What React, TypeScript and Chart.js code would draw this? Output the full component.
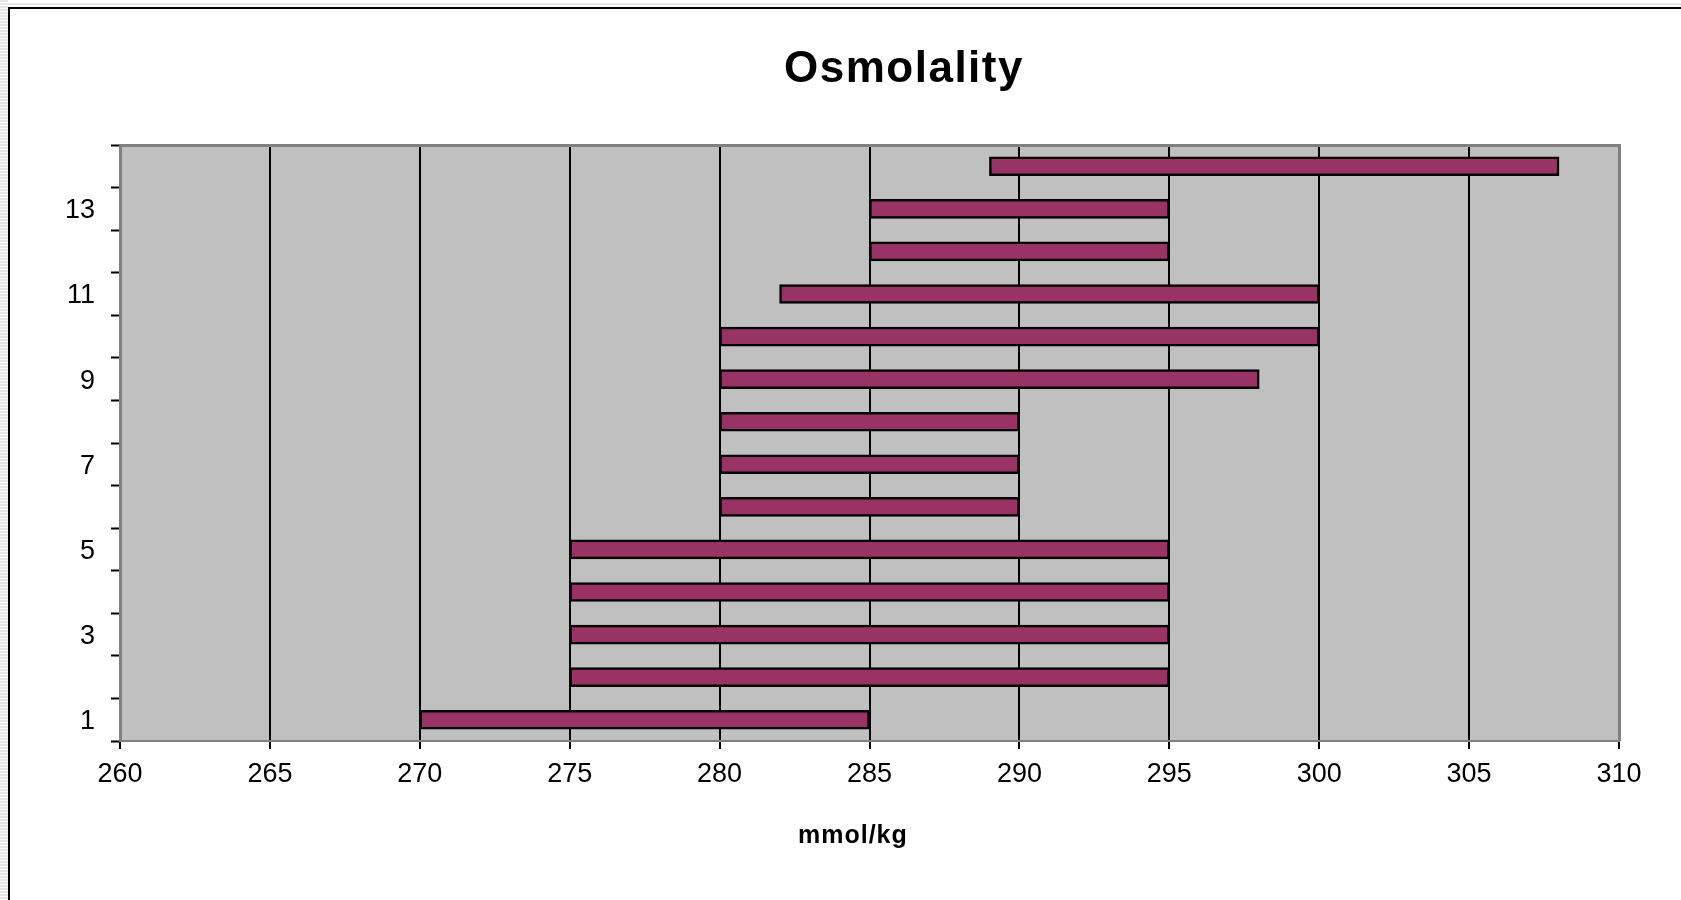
import React, { useEffect, useRef } from "react";
import { Chart, registerables } from "chart.js";

Chart.register(...registerables);

const categories = ["1", "2", "3", "4", "5", "6", "7", "8", "9", "10", "11", "12", "13", "14"];
const lowValues = [270, 275, 275, 275, 275, 280, 280, 280, 280, 280, 282, 285, 285, 289];
const highValues = [285, 295, 295, 295, 295, 290, 290, 290, 298, 300, 300, 295, 295, 308];
const xMin = 260;
const xMax = 310;
const xStep = 5;
const chartTitle = "Osmolality";
const xAxisTitle = "mmol/kg";

const FONT = "'Liberation Sans', Arial, sans-serif";

const plotPlugin = {
  id: "plotDecor",
  beforeDraw(chart: any) {
    const { ctx, chartArea } = chart;
    ctx.save();
    ctx.fillStyle = "#C0C0C0";
    ctx.fillRect(chartArea.left, chartArea.top, chartArea.right - chartArea.left, chartArea.bottom - chartArea.top);
    ctx.restore();
  },
  afterDraw(chart: any) {
    const { ctx, chartArea } = chart;
    ctx.save();
    ctx.strokeStyle = "#808080";
    ctx.lineWidth = 3;
    ctx.beginPath();
    ctx.moveTo(chartArea.left - 1, chartArea.top + 0.5);
    ctx.lineTo(chartArea.right + 0.5, chartArea.top + 0.5);
    ctx.lineTo(chartArea.right + 0.5, chartArea.bottom);
    ctx.stroke();
    // titles
    ctx.fillStyle = "#000";
    ctx.textBaseline = "alphabetic";
    ctx.textAlign = "left";
    (ctx as any).letterSpacing = "1.5px";
    ctx.font = `bold 44px ${FONT}`;
    ctx.fillText(chartTitle, 774, 73);
    (ctx as any).letterSpacing = "1px";
    ctx.font = `bold 25px ${FONT}`;
    ctx.fillText(xAxisTitle, 788, 834);
    (ctx as any).letterSpacing = "0px";
    ctx.restore();
  },
};

export default function App() {
  const ref = useRef<HTMLCanvasElement>(null);

  useEffect(() => {
    if (!ref.current) return;
    const chart = new Chart(ref.current, {
      type: "bar",
      data: {
        labels: categories,
        datasets: [
          {
            label: chartTitle,
            data: lowValues.map((l, i) => [l, highValues[i]]) as any,
            backgroundColor: "#993366",
            borderColor: "#000000",
            borderWidth: 2.5,
            borderSkipped: false,
            barThickness: 19,
          },
        ],
      },
      options: {
        indexAxis: "y",
        responsive: false,
        animation: false,
        layout: { padding: { top: 136, right: 62, bottom: 0, left: 0 } },
        plugins: {
          legend: { display: false },
          title: { display: false },
          tooltip: { enabled: false },
        },
        scales: {
          x: {
            type: "linear",
            min: xMin,
            max: xMax,
            ticks: {
              stepSize: xStep,
              color: "#000",
              padding: 9,
              font: { family: FONT, size: 27 },
              maxRotation: 0,
            },
            grid: {
              color: (c: any) =>
                c.tick && (c.tick.value === xMin || c.tick.value === xMax) ? "rgba(0,0,0,0)" : "#000",
              lineWidth: 2,
              tickColor: "#000",
              tickLength: 8,
              tickWidth: 2,
              drawOnChartArea: true,
            },
            border: { display: true, color: "#808080", width: 2 },
            afterFit: (scale: any) => {
              scale.height = 159;
            },
          },
          y: {
            type: "category",
            reverse: true,
            offset: true,
            ticks: {
              autoSkip: false,
              color: "#000",
              padding: 16,
              labelOffset: 2,
              font: { family: FONT, size: 27 },
              callback: (_v: any, idx: number) => (idx % 2 === 0 ? categories[idx] : ""),
            },
            grid: {
              offset: true,
              drawOnChartArea: false,
              tickColor: "#000",
              tickLength: 9,
              tickWidth: 2,
            },
            border: { display: true, color: "#808080", width: 3 },
            afterFit: (scale: any) => {
              scale.width = 110;
            },
          },
        },
      },
      plugins: [plotPlugin],
    });
    return () => chart.destroy();
  }, []);

  return (
    <div style={{ position: "fixed", left: 0, top: 0, right: 0, bottom: 0, overflow: "hidden", background: "#fff" }}>
      <div
        style={{
          position: "absolute",
          left: 0,
          top: 0,
          width: 8,
          height: 900,
          background: "repeating-linear-gradient(to bottom, #e4e4e4 0px, #e4e4e4 2px, #fafafa 2px, #fafafa 3px)",
        }}
      />
      <div
        style={{
          position: "absolute",
          left: 0,
          top: 3,
          right: 0,
          height: 2,
          background: "#e6e6e6",
        }}
      />
      <div
        style={{
          position: "absolute",
          left: 8,
          top: 7,
          borderLeft: "2px solid #000",
          borderTop: "2px solid #000",
          width: 1671,
          height: 891,
          background: "#fff",
        }}
      >
        <canvas ref={ref} width={1671} height={891} style={{ display: "block" }} />
      </div>
    </div>
  );
}
